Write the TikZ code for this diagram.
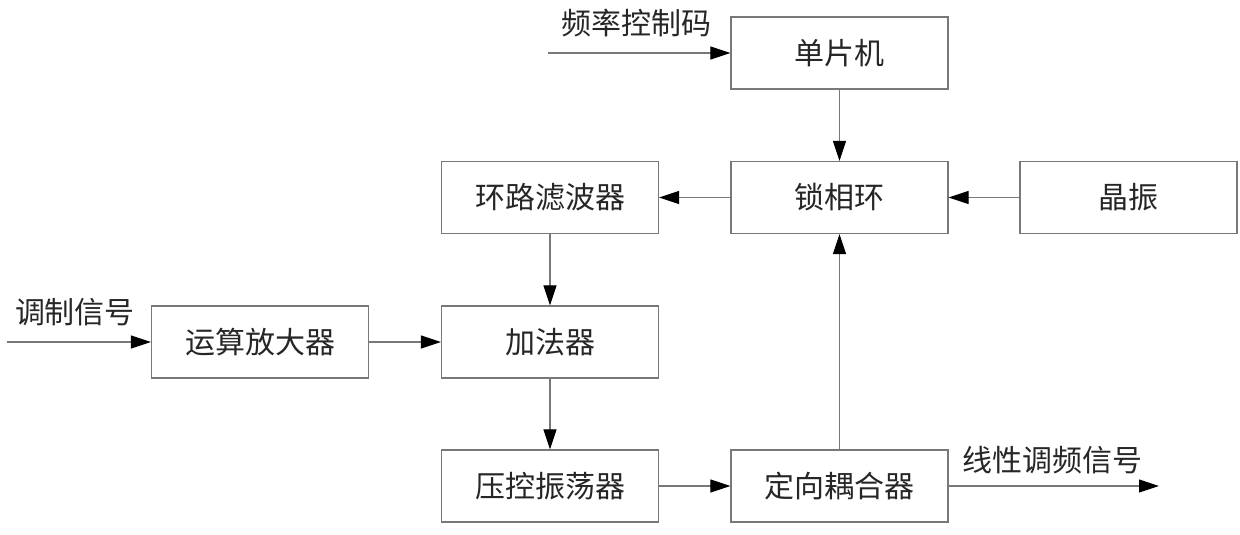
\documentclass[tikz,border=0pt]{standalone}
\usepackage{fontspec}
\setmainfont{Noto Sans CJK SC}
\usetikzlibrary{arrows.meta}
\definecolor{linegray}{RGB}{120,120,120}
\tikzset{
  blk/.style={draw=linegray, line width=1.3pt, minimum width=217pt, minimum height=72pt, inner sep=0pt, font=\fontsize{30}{34}\selectfont, text=black!85},
  lbl/.style={font=\fontsize{30}{34}\selectfont, text=black!85, inner sep=0pt},
  conn/.style={draw=linegray, line width=1.1pt, -{Triangle[length=20pt,width=13pt,color=black]}}
}
\begin{document}
\begin{tikzpicture}[x=1pt,y=-1pt]
\useasboundingbox (0,0) rectangle (1240,535);
\node[blk] (mcu) at (839.5,53) {单片机};
\node[blk] (pll) at (839.5,197.5) {锁相环};
\node[blk] (xtal) at (1128.5,197.5) {晶振};
\node[blk] (lf) at (550,197.5) {环路滤波器};
\node[blk] (add) at (550,342) {加法器};
\node[blk] (opa) at (260,342) {运算放大器};
\node[blk] (vco) at (550,486) {压控振荡器};
\node[blk] (dc) at (839.5,486) {定向耦合器};
\coordinate (fin) at (548,53);
\coordinate (min) at (7,342);
\coordinate (out) at (1159,486);
\node[lbl] (tf) at (636,23) {频率控制码};
\node[lbl] (tm) at (75,312) {调制信号};
\node[lbl] (to) at (1052,460) {线性调频信号};
\draw[conn] (fin) -- (mcu.west);
\draw[conn] (mcu.south) -- (pll.north);
\draw[conn] (xtal.west) -- (pll.east);
\draw[conn] (pll.west) -- (lf.east);
\draw[conn] (lf.south) -- (add.north);
\draw[conn] (min) -- (opa.west);
\draw[conn] (opa.east) -- (add.west);
\draw[conn] (add.south) -- (vco.north);
\draw[conn] (vco.east) -- (dc.west);
\draw[conn] (dc.north) -- (pll.south);
\draw[conn] (dc.east) -- (out);
\end{tikzpicture}
\end{document}
